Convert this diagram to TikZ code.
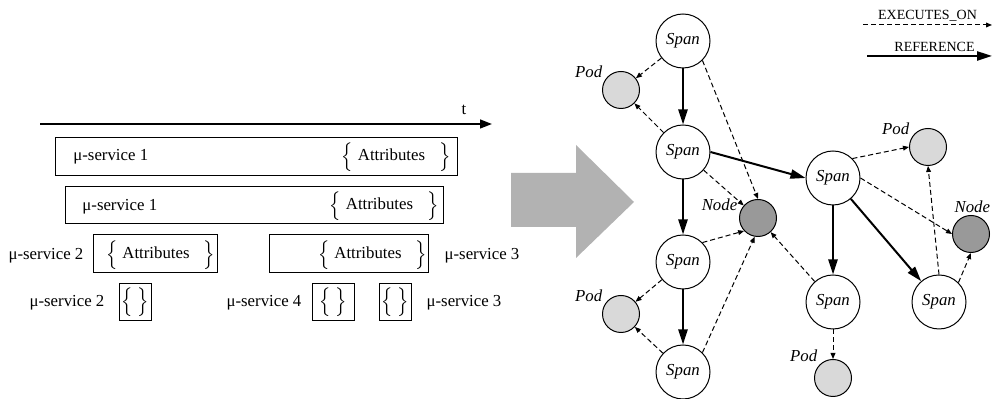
\documentclass[tikz,border=0pt]{standalone}
\usepackage{amsmath}
\usepackage{fontspec}
\setmainfont{Liberation Serif}
\usetikzlibrary{arrows.meta}

\begin{document}
\begin{tikzpicture}[x=0.5pt,y=-0.5pt,
  every node/.style={font=\fontsize{8.4}{10}\selectfont},
  span/.style={circle,draw,line width=0.5pt,fill=white,minimum size=27pt,inner sep=0pt,font=\fontsize{8.4}{10}\selectfont\itshape},
  pod/.style={circle,draw,line width=0.5pt,fill=black!15,minimum size=18.5pt,inner sep=0pt},
  host/.style={pod,fill=black!40},
  lbl/.style={font=\fontsize{8.4}{10}\selectfont\itshape,inner sep=1pt},
  exec/.style={dash pattern=on 2.5pt off 1.5pt,line width=0.5pt,-{Triangle[length=3pt,width=2.4pt]}},
  ref/.style={line width=1pt,-{Triangle[length=7.5pt,width=4.6pt]}},
  svcbox/.style={draw,line width=0.5pt,minimum height=19pt,inner sep=0pt},
  tinybox/.style={draw,line width=0.5pt,minimum width=16pt,minimum height=18.5pt,inner sep=0pt},
  attr/.style={inner sep=0pt},
  legend/.style={font=\fontsize{7}{8}\selectfont,inner sep=1.5pt}]
  \useasboundingbox (0,0) rectangle (992,399);

  % time line
  \coordinate (t0) at (40,124);
  \coordinate (t1) at (492,124);
  \draw[line width=1pt,-{Triangle[length=6pt,width=4.4pt]}] (t0) -- (t1);
  \node (tlbl) at (464,110) {t};

  % services
  \node[svcbox,minimum width=201pt] (b1) at (256,157) {};
  \node[svcbox,minimum width=189pt,minimum height=18.5pt] (b2) at (254,205.5) {};
  \node[svcbox,minimum width=62pt] (b3) at (155,254) {};
  \node[svcbox,minimum width=79.5pt] (b4) at (348.5,254) {};
  \node[tinybox] (e1) at (135.5,302.5) {$\Big\{\;\Big\}$};
  \node[tinybox,minimum width=21pt] (e2) at (333,302.5) {$\Big\{\;\Big\}$};
  \node[tinybox] (e3) at (395,302.5) {$\Big\{\;\Big\}$};

  \node[anchor=west,inner sep=0pt] (m1) at (73,157) {μ-service 1};
  \node[anchor=west,inner sep=0pt] (m2) at (82,207) {μ-service 1};
  \node (m3) at (46,256) {μ-service 2};
  \node (m4) at (482,256) {μ-service 3};
  \node (m5) at (67,303) {μ-service 2};
  \node (m6) at (264,303) {μ-service 4};
  \node (m7) at (464,303) {μ-service 3};

  \node[attr] (a1) at (396,157) {$\Big\{$\hspace{2.5pt}Attributes\hspace{7pt}$\Big\}$};
  \node[attr] (a2) at (384,206) {$\Big\{$\hspace{2.5pt}Attributes\hspace{7pt}$\Big\}$};
  \node[attr] (a3) at (160.5,255) {$\Big\{$\hspace{2.5pt}Attributes\hspace{7pt}$\Big\}$};
  \node[attr] (a4) at (372.5,255) {$\Big\{$\hspace{2.5pt}Attributes\hspace{7pt}$\Big\}$};

  \fill[black!30] (511,173) -- (576,173) -- (576,145) -- (634,202) -- (576,258) -- (576,227) -- (511,227) -- cycle;

  % graph
  \node[pod,label={[lbl]150:Pod}] (p1) at (621,90) {};
  \node[pod,label={[lbl]150:Pod}] (p2) at (621,314) {};
  \node[pod,label={[lbl]150:Pod}] (p3) at (928,147) {};
  \node[pod,label={[lbl]135:Pod}] (p4) at (833,378) {};
  \node[host,label={[lbl]165:Node}] (n1) at (758,218) {};
  \node[host,label={[lbl,anchor=south]86:Node}] (n2) at (971,234) {};

  \node[span] (s1) at (683,41) {Span};
  \node[span] (s2) at (683,152) {Span};
  \node[span] (s3) at (683,262) {Span};
  \node[span] (s4) at (683,372) {Span};
  \node[span] (r1) at (833,178) {Span};
  \node[span] (r2) at (833,302) {Span};
  \node[span] (r3) at (939,302) {Span};

  \draw[ref] (s1) -- (s2);
  \draw[ref] (s2) -- (s3);
  \draw[ref] (s3) -- (s4);
  \draw[ref] (s2.east) -- (r1.west);
  \draw[ref] (r1) -- (r2);
  \draw[ref] (r1) -- (r3);

  \draw[exec] (s1) -- (p1);
  \draw[exec] (s2) -- (p1);
  \draw[exec] (s1.-45) -- (n1.north);
  \draw[exec] (s2) -- (n1);
  \draw[exec] (s3.45) -- (n1.223);
  \draw[exec] (s4.45) -- (n1.-100);
  \draw[exec] (r2) -- (n1);
  \draw[exec] (s3) -- (p2);
  \draw[exec] (s4) -- (p2);
  \draw[exec] (r1.45) -- (p3.west);
  \draw[exec] (r1.east) -- (n2.west);
  \draw[exec] (r3.north) -- (p3.south);
  \draw[exec] (r3.45) -- (n2.south);
  \draw[exec] (r2) -- (p4);

  % legend
  \coordinate (x0) at (863,25);
  \coordinate (x1) at (992,25);
  \coordinate (y0) at (867,56);
  \coordinate (y1) at (992,56);
  \draw[exec] (x0) -- node[legend,above] (xl) {EXECUTES\_ON} (x1);
  \draw[ref] (y0) -- node[legend,above,pos=.54] (yl) {REFERENCE} (y1);
\end{tikzpicture}
\end{document}
